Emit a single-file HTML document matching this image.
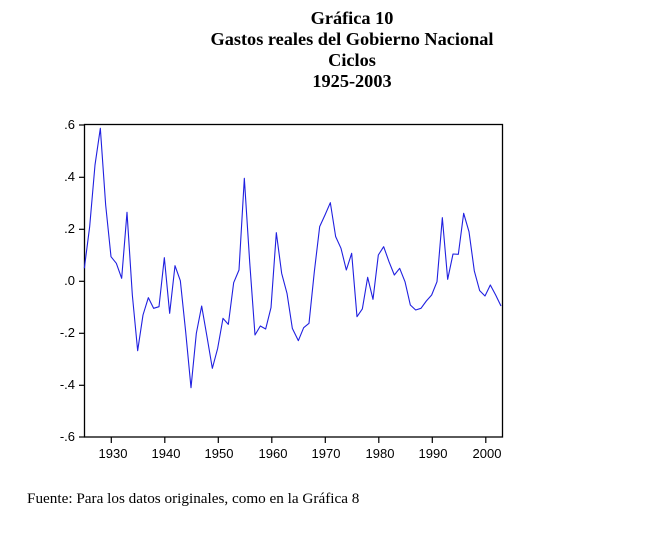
<!DOCTYPE html>
<html><head><meta charset="utf-8"><style>
body{margin:0;background:#fff;width:672px;height:552px;overflow:hidden}
svg{display:block}
</style></head><body>
<svg width="672" height="552" xmlns="http://www.w3.org/2000/svg">
<g font-family="Liberation Serif, serif" font-weight="bold" font-size="18.3" text-anchor="middle" fill="#000">
<text x="352" y="24">Gráfica 10</text>
<text x="352" y="45">Gastos reales del Gobierno Nacional</text>
<text x="352" y="66">Ciclos</text>
<text x="352" y="87">1925-2003</text>
</g>
<rect x="84.5" y="124.5" width="418" height="312.5" fill="none" stroke="#000" stroke-width="1.3"/>
<g stroke="#000" stroke-width="1.2">
<line x1="84.5" y1="177.3" x2="79" y2="177.3"/>
<line x1="84.5" y1="229.3" x2="79" y2="229.3"/>
<line x1="84.5" y1="281.3" x2="79" y2="281.3"/>
<line x1="84.5" y1="333.3" x2="79" y2="333.3"/>
<line x1="84.5" y1="385.3" x2="79" y2="385.3"/>
<line x1="84.5" y1="125" x2="79" y2="125"/>
<line x1="84.5" y1="437" x2="79" y2="437"/>
<line x1="111.3" y1="437" x2="111.3" y2="443"/>
<line x1="164.8" y1="437" x2="164.8" y2="443"/>
<line x1="218.3" y1="437" x2="218.3" y2="443"/>
<line x1="271.8" y1="437" x2="271.8" y2="443"/>
<line x1="325.3" y1="437" x2="325.3" y2="443"/>
<line x1="378.8" y1="437" x2="378.8" y2="443"/>
<line x1="432.3" y1="437" x2="432.3" y2="443"/>
<line x1="485.8" y1="437" x2="485.8" y2="443"/>
</g>
<g font-family="Liberation Sans, sans-serif" font-size="13" fill="#000" text-anchor="end">
<text x="75" y="129">.6</text>
<text x="75" y="181">.4</text>
<text x="75" y="233">.2</text>
<text x="75" y="285">.0</text>
<text x="75" y="337">-.2</text>
<text x="75" y="389">-.4</text>
<text x="75" y="441">-.6</text>
</g>
<g font-family="Liberation Sans, sans-serif" font-size="13" fill="#000" text-anchor="middle">
<text x="113" y="458">1930</text>
<text x="166" y="458">1940</text>
<text x="219" y="458">1950</text>
<text x="273" y="458">1960</text>
<text x="326" y="458">1970</text>
<text x="380" y="458">1980</text>
<text x="433" y="458">1990</text>
<text x="487" y="458">2000</text>
</g>
<g transform="translate(75,115) scale(0.33333)" fill="none" stroke="#2020e0" stroke-width="3.3" stroke-linejoin="round">
<polyline points="28,460 44,335 60,150 76,40 92,270 108,425 124,445 140,490 156,292 172,540 188,707 204,600 220,548 236,580 252,575 268,428 284,595 300,452 316,497 332,650 348,818 364,655 380,573 396,665 412,760 428,700 444,610 460,628 476,503 492,465 508,190 524,440 540,660 556,633 572,642 588,578 604,353 620,475 636,535 652,640 670,677 686,638 702,625 718,470 734,335 750,300 766,263 782,365 798,400 814,465 830,415 846,605 862,582 878,487 894,553 910,420 926,395 942,440 958,480 974,460 990,500 1006,570 1022,585 1038,580 1054,558 1070,540 1086,500 1102,308 1118,493 1134,417 1150,418 1166,295 1182,350 1198,468 1214,527 1230,543 1246,510 1262,540 1278,573"/>
</g>
<text x="27" y="503" font-family="Liberation Serif, serif" font-size="15.2" fill="#000">Fuente: Para los datos originales, como en la Gráfica 8</text>
</svg>
</body></html>
